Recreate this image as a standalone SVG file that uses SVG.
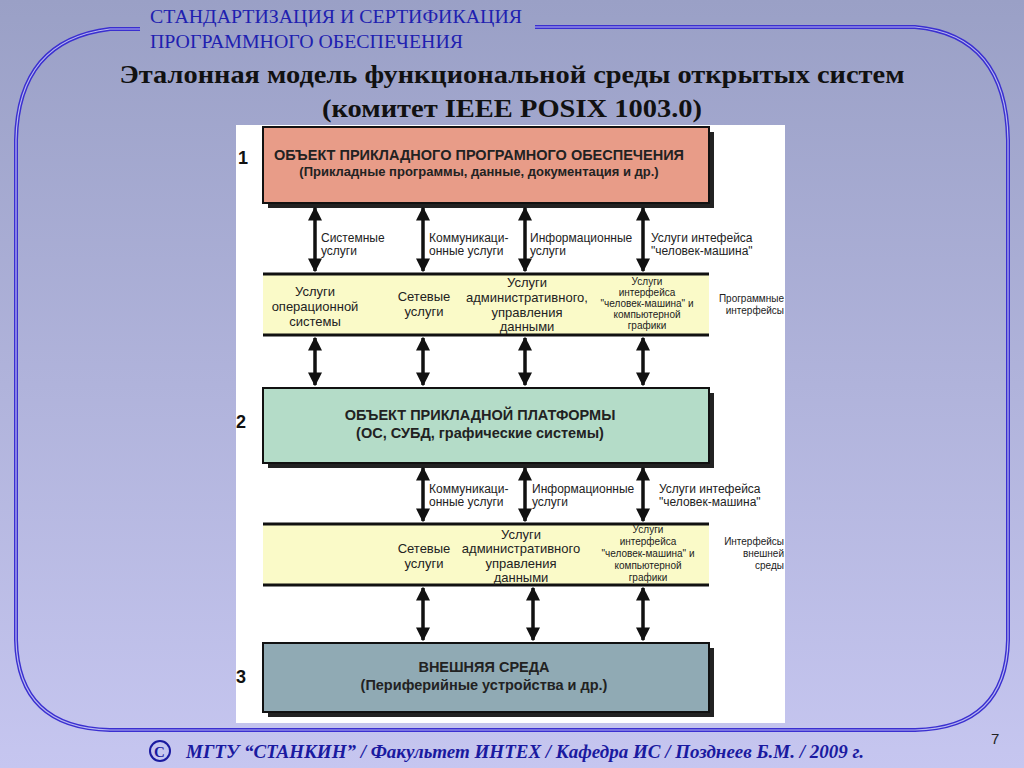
<svg xmlns="http://www.w3.org/2000/svg" width="1024" height="768" viewBox="0 0 1024 768">
<defs>
<linearGradient id="bg" x1="0" y1="0" x2="0" y2="1"><stop offset="0" stop-color="#9aa0c6"/><stop offset="1" stop-color="#c6c6f0"/></linearGradient>
<marker id="ah" viewBox="0 0 10 10" refX="9" refY="5" markerWidth="4" markerHeight="4" orient="auto-start-reverse"><path d="M0,0 L10,5 L0,10 z" fill="#111"/></marker>
<style>
.fr{fill:none;stroke:#3a2fd0;stroke-width:4}
.fr2{fill:none;stroke:#b8b8f0;stroke-width:1.2}
.hd{font-family:"Liberation Serif",serif;font-size:18px;fill:#2020b0}
.ti{font-family:"Liberation Serif",serif;font-size:26px;font-weight:bold;fill:#111;text-anchor:middle}
.box{stroke:#111;stroke-width:2}
.sh{fill:#222}
.bt{font-family:"Liberation Sans",Arial,sans-serif;font-size:14.5px;font-weight:bold;fill:#222;text-anchor:middle}
.lb{font-family:"Liberation Sans",Arial,sans-serif;font-size:12px;fill:#222}
.in{font-family:"Liberation Sans",Arial,sans-serif;font-size:13px;fill:#222;text-anchor:middle}
.sm{font-family:"Liberation Sans",Arial,sans-serif;font-size:10px;fill:#222;text-anchor:middle}
.num{font-family:"Liberation Sans",Arial,sans-serif;font-size:18px;font-weight:bold;fill:#111}
.ar{stroke:#111;stroke-width:3.5;marker-start:url(#ah);marker-end:url(#ah)}
.ft{font-family:"Liberation Serif",serif;font-size:19px;font-style:italic;font-weight:bold;fill:#1a1aa0}
</style>
</defs>
<rect width="1024" height="768" fill="url(#bg)"/>
<g id="frame">
<path class="fr" d="M140,29 L110,29 Q18,40 16,140 L16,640 Q18,728 110,730 L915,730 Q1006,728 1008,640 L1008,140 Q1006,35 915,27 L535,27"/>
<path class="fr2" d="M140,29 L110,29 Q18,40 16,140 L16,640 Q18,728 110,730 L915,730 Q1006,728 1008,640 L1008,140 Q1006,35 915,27 L535,27"/>
</g>
<text class="hd" x="150" y="23" textLength="372" lengthAdjust="spacingAndGlyphs">СТАНДАРТИЗАЦИЯ И СЕРТИФИКАЦИЯ</text>
<text class="hd" x="150" y="48" textLength="313" lengthAdjust="spacingAndGlyphs">ПРОГРАММНОГО ОБЕСПЕЧЕНИЯ</text>
<text class="ti" x="512" y="83" textLength="785" lengthAdjust="spacingAndGlyphs">Эталонная модель функциональной среды открытых систем</text>
<text class="ti" x="512" y="117" textLength="380" lengthAdjust="spacingAndGlyphs">(комитет IEEE POSIX 1003.0)</text>
<rect x="236" y="125" width="549" height="598" fill="#fff"/>
<text class="num" x="238" y="164">1</text>
<text class="num" x="236" y="428">2</text>
<text class="num" x="236" y="683">3</text>
<g id="n1"><rect class="sh" x="268" y="132" width="446" height="76"/><rect class="box" x="263" y="127" width="446" height="76" fill="#e89c88"/>
<text class="bt" x="479" y="160">ОБЪЕКТ ПРИКЛАДНОГО ПРОГРАМНОГО ОБЕСПЕЧЕНИЯ</text>
<text class="bt" x="479" y="176" style="font-size:13px">(Прикладные программы, данные, документация и др.)</text></g>
<g id="n2"><rect x="263" y="273" width="446" height="62" fill="#fafac8"/><line x1="263" y1="274" x2="709" y2="274" stroke="#111" stroke-width="3"/><line x1="263" y1="335" x2="709" y2="335" stroke="#111" stroke-width="3"/>
<text class="in" x="315" y="296">Услуги</text><text class="in" x="315" y="311">операционной</text><text class="in" x="315" y="326">системы</text>
<text class="in" x="424" y="301">Сетевые</text><text class="in" x="424" y="316">услуги</text>
<text class="in" x="527" y="287">Услуги</text><text class="in" x="527" y="302">административного,</text><text class="in" x="527" y="317">управления</text><text class="in" x="527" y="331">данными</text>
<text class="sm" x="647" y="285">Услуги</text><text class="sm" x="647" y="296">интерфейса</text><text class="sm" x="647" y="307">"человек-машина" и</text><text class="sm" x="647" y="318">компьютерной</text><text class="sm" x="647" y="329">графики</text>
<text class="sm" x="784" y="302" style="text-anchor:end">Программные</text><text class="sm" x="784" y="314" style="text-anchor:end">интерфейсы</text></g>
<g id="n3"><rect class="sh" x="268" y="393" width="446" height="75"/><rect class="box" x="263" y="388" width="446" height="75" fill="#b4dcc8"/>
<text class="bt" x="480" y="420">ОБЪЕКТ ПРИКЛАДНОЙ ПЛАТФОРМЫ</text>
<text class="bt" x="480" y="438">(ОС, СУБД, графические системы)</text></g>
<g id="n4"><rect x="263" y="523" width="446" height="62" fill="#fafac8"/><line x1="263" y1="524" x2="709" y2="524" stroke="#111" stroke-width="3"/><line x1="263" y1="585" x2="709" y2="585" stroke="#111" stroke-width="3"/>
<text class="in" x="424" y="553">Сетевые</text><text class="in" x="424" y="568">услуги</text>
<text class="in" x="521" y="539">Услуги</text><text class="in" x="521" y="553">административного</text><text class="in" x="521" y="568">управления</text><text class="in" x="521" y="582">данными</text>
<text class="sm" x="648" y="533">Услуги</text><text class="sm" x="648" y="545">интерфейса</text><text class="sm" x="648" y="557">"человек-машина" и</text><text class="sm" x="648" y="569">компьютерной</text><text class="sm" x="648" y="581">графики</text>
<text class="sm" x="784" y="545" style="text-anchor:end">Интерфейсы</text><text class="sm" x="784" y="557" style="text-anchor:end">внешней</text><text class="sm" x="784" y="569" style="text-anchor:end">среды</text></g>
<g id="n5"><rect class="sh" x="268" y="648" width="446" height="69"/><rect class="box" x="263" y="643" width="446" height="69" fill="#90aab4"/>
<text class="bt" x="484" y="672">ВНЕШНЯЯ СРЕДА</text>
<text class="bt" x="484" y="690">(Периферийные устройства и др.)</text></g>
<g id="connectors">
<line class="ar" x1="315" y1="208" x2="315" y2="271"/>
<line class="ar" x1="423" y1="208" x2="423" y2="271"/>
<line class="ar" x1="525" y1="208" x2="525" y2="271"/>
<line class="ar" x1="643" y1="208" x2="643" y2="271"/>
<line class="ar" x1="315" y1="338" x2="315" y2="385"/>
<line class="ar" x1="423" y1="338" x2="423" y2="385"/>
<line class="ar" x1="525" y1="338" x2="525" y2="385"/>
<line class="ar" x1="643" y1="338" x2="643" y2="385"/>
<line class="ar" x1="423" y1="468" x2="423" y2="521"/>
<line class="ar" x1="525" y1="468" x2="525" y2="521"/>
<line class="ar" x1="643" y1="468" x2="643" y2="521"/>
<line class="ar" x1="423" y1="588" x2="423" y2="640"/>
<line class="ar" x1="533" y1="588" x2="533" y2="640"/>
<line class="ar" x1="643" y1="588" x2="643" y2="640"/>
<text class="lb" x="321" y="242">Системные</text><text class="lb" x="321" y="255">услуги</text>
<text class="lb" x="429" y="242">Коммуникаци-</text><text class="lb" x="429" y="255">онные услуги</text>
<text class="lb" x="530" y="242">Информационные</text><text class="lb" x="530" y="255">услуги</text>
<text class="lb" x="651" y="242">Услуги интефейса</text><text class="lb" x="651" y="255">"человек-машина"</text>
<text class="lb" x="429" y="493">Коммуникаци-</text><text class="lb" x="429" y="506">онные услуги</text>
<text class="lb" x="532" y="493">Информационные</text><text class="lb" x="532" y="506">услуги</text>
<text class="lb" x="659" y="493">Услуги интефейса</text><text class="lb" x="659" y="506">"человек-машина"</text>
</g>
<circle cx="160" cy="751" r="10" fill="none" stroke="#1a1aa0" stroke-width="2"/>
<text class="ft" x="154" y="757" style="font-size:15px;font-style:normal">С</text>
<text class="ft" x="186" y="758">МГТУ “СТАНКИН” / Факультет ИНТЕХ / Кафедра ИС / Позднеев Б.М. / 2009 г.</text>
<text x="991" y="744" style="font-family:'Liberation Sans',sans-serif;font-size:15px;fill:#222">7</text>
</svg>
